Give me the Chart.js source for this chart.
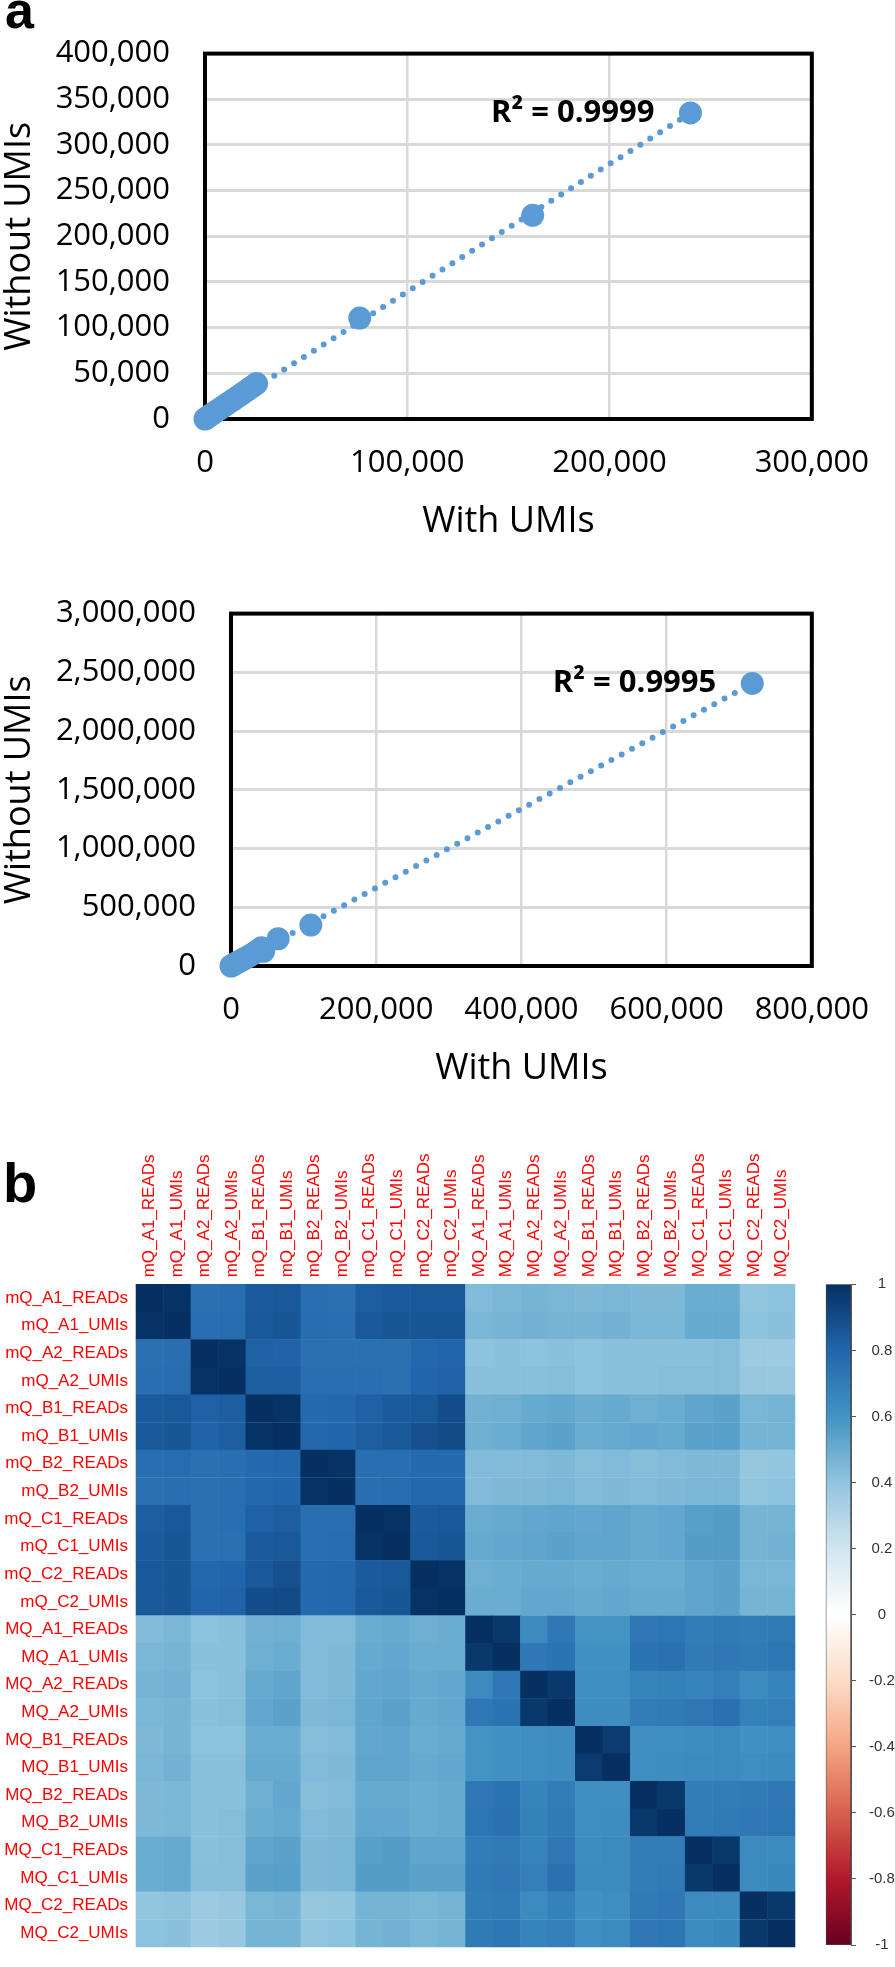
<!DOCTYPE html>
<html>
<head>
<meta charset="utf-8">
<script src="https://cdn.jsdelivr.net/npm/chart.js@4.4.1/dist/chart.umd.min.js"></script>
<style>
  html, body { margin: 0; padding: 0; background: #fff; }
  body { width: 895px; height: 1967px; position: relative; overflow: hidden; }
  .panel { position: absolute; }
  .tag { position: absolute; font-family: "Liberation Sans", Arial, sans-serif; font-weight: bold; line-height: 1; color: #000; }
</style>
</head>
<body>
<div class="tag" style="left:5px; top:-16px; font-size:52px;">a</div>
<div class="panel" style="left:0; top:0; width:895px; height:543px;"><canvas id="scatterTop"></canvas></div>
<div class="panel" style="left:0; top:560px; width:895px; height:530px;"><canvas id="scatterBottom"></canvas></div>
<div class="tag" style="left:3px; top:1155px; font-size:56px;">b</div>
<div class="panel" style="left:0; top:1100px; width:815px; height:867px;"><canvas id="heatmap"></canvas></div>
<div class="panel" style="left:815px; top:1100px; width:80px; height:867px;"><canvas id="colorbar"></canvas></div>
<script>
// ---- panel a, upper plot ----
var withUmisTop    = [0, 400, 900, 1500, 2200, 3000, 3900, 4900, 6000, 7200, 8400, 9700, 11000, 12400, 13800, 15300, 16800, 18300, 19800, 21300, 22800, 24200, 25500, 76500, 162000, 240000];
var withoutUmisTop = [0, 600, 1400, 2300, 3400, 4600, 6000, 7500, 9100, 10900, 12700, 14600, 16600, 18700, 20800, 23000, 25300, 27600, 29900, 32200, 34500, 36700, 38800, 110500, 223000, 335000];
var trendXTop = [0, 240000];
var trendYTop = [-500, 335000];
var xTicksTop = [0, 100000, 200000, 300000];
var yTicksTop = [0, 50000, 100000, 150000, 200000, 250000, 300000, 350000, 400000];
var r2Top = 'R² = 0.9999';

// ---- panel a, lower plot ----
var withUmisBottom    = [0, 1500, 3000, 4500, 6500, 8500, 10500, 13000, 15500, 18000, 21000, 24000, 27000, 30000, 33000, 36000, 39000, 42000, 45000, 65000, 110000, 718000];
var withoutUmisBottom = [0, 5000, 10000, 15000, 22000, 29000, 36000, 44000, 52000, 61000, 71000, 81000, 92000, 103000, 115000, 128000, 141000, 155000, 125000, 232000, 348000, 2405000];
var trendXBottom = [0, 718000];
var trendYBottom = [-5000, 2405000];
var xTicksBottom = [0, 200000, 400000, 600000, 800000];
var yTicksBottom = [0, 500000, 1000000, 1500000, 2000000, 2500000, 3000000];
var r2Bottom = 'R² = 0.9995';

// ---- panel b, correlation matrix ----
var corrLabels = ['mQ_A1_READs','mQ_A1_UMIs','mQ_A2_READs','mQ_A2_UMIs','mQ_B1_READs','mQ_B1_UMIs',
                  'mQ_B2_READs','mQ_B2_UMIs','mQ_C1_READs','mQ_C1_UMIs','mQ_C2_READs','mQ_C2_UMIs',
                  'MQ_A1_READs','MQ_A1_UMIs','MQ_A2_READs','MQ_A2_UMIs','MQ_B1_READs','MQ_B1_UMIs',
                  'MQ_B2_READs','MQ_B2_UMIs','MQ_C1_READs','MQ_C1_UMIs','MQ_C2_READs','MQ_C2_UMIs'];
var corr = [
  [1,.99, .75,.76, .84,.85, .76,.75, .83,.84, .85,.85, .44,.46, .47,.46, .45,.46, .45,.45, .50,.50, .40,.41],
  [.99,1, .76,.77, .85,.86, .77,.76, .85,.86, .86,.86, .46,.47, .48,.47, .47,.48, .46,.46, .51,.51, .41,.42],
  [.75,.76, 1,.99, .82,.81, .75,.75, .75,.75, .79,.80, .41,.42, .41,.42, .41,.42, .42,.42, .42,.43, .37,.37],
  [.76,.77, .99,1, .83,.83, .76,.76, .76,.75, .80,.81, .42,.42, .42,.43, .41,.42, .42,.43, .43,.43, .38,.38],
  [.84,.85, .82,.83, 1,.99, .78,.79, .82,.84, .85,.89, .48,.49, .51,.52, .50,.51, .49,.50, .53,.54, .46,.47],
  [.85,.86, .81,.83, .99,1, .79,.80, .83,.85, .88,.90, .49,.50, .53,.54, .50,.51, .52,.51, .54,.55, .47,.47],
  [.76,.77, .75,.76, .78,.79, 1,.99, .76,.76, .78,.78, .44,.44, .44,.45, .43,.44, .43,.44, .45,.45, .39,.40],
  [.75,.76, .75,.76, .79,.80, .99,1, .76,.77, .79,.79, .44,.45, .45,.46, .44,.45, .44,.45, .46,.46, .40,.41],
  [.83,.85, .75,.76, .82,.83, .76,.76, 1,.99, .84,.85, .50,.51, .52,.53, .52,.53, .51,.52, .55,.56, .47,.47],
  [.84,.86, .75,.75, .84,.85, .76,.77, .99,1, .85,.86, .51,.52, .53,.54, .53,.53, .51,.52, .56,.56, .47,.48],
  [.85,.86, .79,.80, .85,.88, .78,.79, .84,.85, 1,.99, .49,.50, .51,.51, .50,.51, .50,.50, .53,.54, .46,.46],
  [.85,.86, .80,.81, .89,.90, .78,.79, .85,.86, .99,1, .50,.50, .52,.52, .51,.52, .51,.51, .53,.54, .47,.47],
  [.44,.46, .41,.42, .48,.49, .44,.44, .50,.51, .49,.50, 1,.97, .64,.72, .60,.60, .72,.73, .70,.71, .70,.71],
  [.46,.47, .42,.42, .49,.50, .44,.45, .51,.52, .50,.50, .97,1, .72,.74, .61,.61, .74,.75, .71,.72, .71,.73],
  [.47,.48, .41,.42, .51,.53, .44,.45, .52,.53, .51,.52, .64,.72, 1,.97, .62,.62, .67,.68, .67,.69, .64,.67],
  [.46,.47, .42,.43, .52,.54, .45,.46, .53,.54, .51,.52, .72,.74, .97,1, .63,.63, .70,.71, .72,.75, .68,.69],
  [.45,.47, .41,.41, .50,.50, .43,.44, .52,.53, .50,.51, .60,.61, .62,.63, 1,.96, .62,.62, .63,.64, .61,.62],
  [.46,.48, .42,.42, .51,.51, .44,.45, .53,.53, .51,.52, .60,.61, .62,.63, .96,1, .62,.63, .64,.64, .62,.64],
  [.45,.46, .42,.42, .49,.52, .43,.44, .51,.51, .50,.51, .72,.74, .67,.70, .62,.62, 1,.97, .70,.70, .71,.72],
  [.45,.46, .42,.43, .50,.51, .44,.45, .52,.52, .50,.51, .73,.75, .68,.71, .62,.63, .97,1, .70,.71, .72,.73],
  [.50,.51, .42,.43, .53,.54, .45,.46, .55,.56, .53,.53, .70,.71, .67,.72, .63,.64, .70,.70, 1,.97, .64,.64],
  [.50,.51, .43,.43, .54,.55, .45,.46, .56,.56, .54,.54, .71,.72, .69,.75, .64,.64, .70,.71, .97,1, .64,.65],
  [.40,.41, .37,.38, .46,.47, .39,.40, .47,.47, .46,.47, .70,.71, .64,.68, .61,.62, .71,.72, .64,.64, 1,.97],
  [.41,.42, .37,.38, .47,.47, .40,.41, .47,.48, .46,.47, .71,.73, .67,.69, .62,.64, .72,.73, .64,.65, .97,1]
];
var colorbarTicks = [-1, -0.8, -0.6, -0.4, -0.2, 0, 0.2, 0.4, 0.6, 0.8, 1];
var rdbuStops = ['#67001F','#B2182B','#D6604D','#F4A582','#FDDBC7','#FFFFFF','#D1E5F0','#92C5DE','#4393C3','#2166AC','#053061'];

Chart.defaults.font.family = '"Open Sans", sans-serif';
Chart.defaults.color = '#000';
Chart.defaults.animation = false;
Chart.defaults.events = [];
Chart.defaults.plugins.legend.display = false;
Chart.defaults.plugins.tooltip.enabled = false;

var excelBlue = '#5b9bd5';

function hexToRgb(h) {
  return [parseInt(h.substr(1, 2), 16), parseInt(h.substr(3, 2), 16), parseInt(h.substr(5, 2), 16)];
}
function corrColor(v) {
  var t = (v + 1) / 2 * (rdbuStops.length - 1);
  var i = Math.min(Math.floor(t), rdbuStops.length - 2);
  var f = t - i;
  var a = hexToRgb(rdbuStops[i]), b = hexToRgb(rdbuStops[i + 1]);
  return 'rgb(' + Math.round(a[0] + (b[0] - a[0]) * f) + ',' + Math.round(a[1] + (b[1] - a[1]) * f) + ',' + Math.round(a[2] + (b[2] - a[2]) * f) + ')';
}

// black frame round the plot area, drawn under the points
var frame = {
  id: 'frame',
  beforeDatasetsDraw: function(chart) {
    var a = chart.chartArea, c = chart.ctx;
    c.save();
    c.strokeStyle = '#000';
    c.lineWidth = 4;
    c.strokeRect(a.left, a.top, a.right - a.left, a.bottom - a.top);
    c.restore();
  }
};

// Excel style R² label left of the last point
var r2Label = {
  id: 'r2Label',
  afterDatasetsDraw: function(chart, args, opts) {
    var ds = chart.data.datasets[1].data;
    var last = ds[ds.length - 1];
    var px = chart.scales.x.getPixelForValue(last.x);
    var py = chart.scales.y.getPixelForValue(last.y);
    var c = chart.ctx;
    c.save();
    c.font = 'bold 31px "Open Sans"';
    c.fillStyle = '#000';
    c.textAlign = 'right';
    c.textBaseline = 'middle';
    c.fillText(opts.text, px - 36, py);
    c.restore();
  }
};

function makeScatter(id, xs, ys, tx, ty, xTicks, yTicks, r2, yAxisWidth, topPad) {
  var pts = xs.map(function(x, i) { return {x: x, y: ys[i]}; });
  var trend = tx.map(function(x, i) { return {x: x, y: ty[i]}; });
  return new Chart(document.getElementById(id), {
    type: 'scatter',
    data: {
      datasets: [{
        data: trend,
        showLine: true,
        pointRadius: 0,
        borderColor: excelBlue,
        borderWidth: 6,
        borderDash: [0, 11.7],
        borderCapStyle: 'round',
        clip: false
      }, {
        data: pts,
        pointRadius: 11.5,
        backgroundColor: excelBlue,
        borderWidth: 0,
        clip: false
      }]
    },
    options: {
      responsive: true,
      maintainAspectRatio: false,
      devicePixelRatio: 1,
      locale: 'en-US',
      layout: {padding: {left: 0, right: 59, top: topPad, bottom: 0}},
      plugins: {r2Label: {text: r2}},
      scales: {
        x: {
          type: 'linear',
          min: xTicks[0], max: xTicks[xTicks.length - 1],
          afterFit: function(s) { s.height = 124; },
          ticks: {stepSize: xTicks[1] - xTicks[0], padding: 26, font: {size: 31}, maxRotation: 0,
                  callback: function(v) { return v.toLocaleString('en-US'); }},
          grid: {color: '#d9d9d9', lineWidth: 2.5, drawTicks: false},
          border: {display: false},
          title: {display: true, text: 'With UMIs', font: {size: 36}, padding: {top: 0, bottom: 0}}
        },
        y: {
          type: 'linear',
          min: yTicks[0], max: yTicks[yTicks.length - 1],
          afterFit: function(s) { s.width = yAxisWidth; },
          ticks: {stepSize: yTicks[1] - yTicks[0], padding: 35, font: {size: 31},
                  callback: function(v) { return v.toLocaleString('en-US'); }},
          grid: {color: '#d9d9d9', lineWidth: 3, drawTicks: false},
          border: {display: false},
          title: {display: true, text: 'Without UMIs', font: {size: 36}, padding: {top: -2, bottom: 0}}
        }
      }
    },
    plugins: [frame, r2Label]
  });
}

makeScatter('scatterTop', withUmisTop, withoutUmisTop, trendXTop, trendYTop, xTicksTop, yTicksTop, r2Top, 205, 50);
makeScatter('scatterBottom', withUmisBottom, withoutUmisBottom, trendXBottom, trendYBottom, xTicksBottom, yTicksBottom, r2Bottom, 231, 38);

// heatmap cells
var cells = [];
corr.forEach(function(row, i) {
  row.forEach(function(v, j) {
    cells.push({x: corrLabels[j], y: corrLabels[i], v: v});
  });
});

var labelFont = {family: '"Liberation Sans", Arial, sans-serif', size: 17};

new Chart(document.getElementById('heatmap'), {
  type: 'scatter',
  data: {
    datasets: [{
      data: cells,
      pointStyle: 'rect',
      borderWidth: 0,
      pointRadius: function(ctx) {
        var a = ctx.chart.chartArea;
        return a ? (a.right - a.left) / corrLabels.length / Math.SQRT2 + 0.4 : 20;
      },
      backgroundColor: function(ctx) {
        var r = ctx.raw;
        return r ? corrColor(r.v) : '#fff';
      }
    }]
  },
  options: {
    responsive: true,
    maintainAspectRatio: false,
    devicePixelRatio: 1,
    layout: {padding: {left: 0, right: 3, top: 0, bottom: 8.7}},
    scales: {
      x: {
        type: 'category',
        labels: corrLabels,
        position: 'top',
        offset: true,
        afterFit: function(s) { s.height = 184.3; },
        // rotated labels on a top axis sit one line height left of the tick
        ticks: {color: '#ff0000', font: labelFont, autoSkip: false, minRotation: 90, maxRotation: 90, padding: 7, labelOffset: 20.4},
        grid: {display: false, drawTicks: false},
        border: {display: false}
      },
      y: {
        type: 'category',
        labels: corrLabels,
        offset: true,
        afterFit: function(s) { s.width = 136; },
        ticks: {color: '#ff0000', font: labelFont, autoSkip: false, padding: 8},
        grid: {display: false, drawTicks: false},
        border: {display: false}
      }
    }
  }
});

// colour legend
new Chart(document.getElementById('colorbar'), {
  type: 'bar',
  data: {
    labels: ['r'],
    datasets: [{
      data: [[colorbarTicks[0], colorbarTicks[colorbarTicks.length - 1]]],
      barPercentage: 1,
      categoryPercentage: 1,
      borderWidth: 1,
      borderColor: '#444',
      borderSkipped: false,
      backgroundColor: function(ctx) {
        var area = ctx.chart.chartArea;
        if (!area) return rdbuStops[5];
        var g = ctx.chart.ctx.createLinearGradient(0, area.bottom, 0, area.top);
        rdbuStops.forEach(function(c, i) { g.addColorStop(i / (rdbuStops.length - 1), c); });
        return g;
      }
    }]
  },
  options: {
    responsive: true,
    maintainAspectRatio: false,
    devicePixelRatio: 1,
    layout: {padding: {left: 10.7, right: 0, top: 184.3, bottom: 8}},
    scales: {
      x: {display: false},
      y: {
        position: 'right',
        min: colorbarTicks[0], max: colorbarTicks[colorbarTicks.length - 1],
        afterFit: function(s) { s.width = 44; },
        afterBuildTicks: function(s) { s.ticks = colorbarTicks.map(function(v) { return {value: v}; }); },
        ticks: {color: '#333', font: {family: '"Liberation Sans", Arial, sans-serif', size: 15}, crossAlign: 'center', padding: 13,
                callback: function(v) { return String(Math.round(v * 10) / 10); }},
        grid: {drawOnChartArea: false, tickLength: 5, color: '#555'},
        border: {color: '#555'}
      }
    }
  }
});
</script>
</body>
</html>
